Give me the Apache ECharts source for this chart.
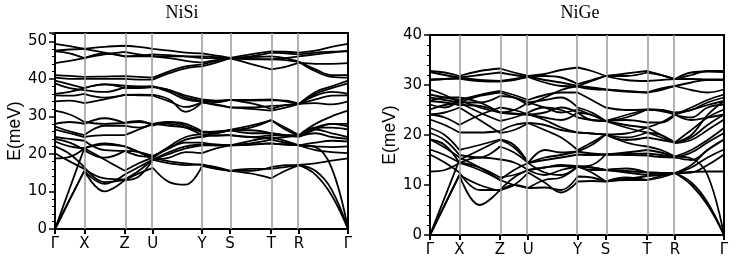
<!DOCTYPE html>
<html>
<head>
<meta charset="utf-8">
<script src="https://cdn.jsdelivr.net/npm/echarts@6/dist/echarts.min.js"></script>
<style>
  html, body { margin: 0; padding: 0; background: #fff; }
  #chart { width: 737px; height: 264px; }
</style>
</head>
<body>
<div id="chart"></div>
<script>
  // k-path sample positions (fraction of path length)
  var kPoints = [0, 0.05, 0.1, 0.169, 0.238, 0.286, 0.334, 0.39, 0.446, 0.502, 0.55, 0.597, 0.667, 0.738, 0.786, 0.833, 0.889, 0.944, 1]
  var kLabelPos = [0, 0.1, 0.238, 0.334, 0.502, 0.597, 0.738, 0.833, 1]
  var kLabels = ['Γ', 'X', 'Z', 'U', 'Y', 'S', 'T', 'R', 'Γ']
  var titles = ['NiSi', 'NiGe']
  var yTicksNiSi = [0, 10, 20, 30, 40, 50]
  var yTicksNiGe = [0, 10, 20, 30, 40]

  // NiSi phonon bands, E(meV) at each kPoint
  var nisiBands = [
    [0, 7.8, 15.5, 10, 13, 14.8, 16.3, 12.5, 11.8, 16.8, 16, 15.5, 14.8, 13.5, 15.5, 17, 14.5, 9, 0],
    [0, 7.8, 15.5, 12, 14.5, 16.5, 18.5, 17.5, 17, 17.2, 16.2, 15.5, 16, 16, 16.5, 17, 15.5, 10.5, 0],
    [0, 10.8, 21.5, 22.5, 22, 20.5, 18.5, 20, 21.5, 22.3, 22.3, 22.3, 22.5, 22.8, 22.5, 22.3, 21.8, 16.3, 0],
    [18.8, 19.2, 21.5, 22.8, 22, 20.5, 19, 18, 17.5, 17.1, 16.5, 15.5, 15.5, 16.5, 17, 17.1, 17.5, 18.2, 18.8],
    [20.2, 18, 16, 13.5, 13.2, 15.5, 18.5, 19, 20.5, 20.2, 21.5, 22.3, 22.5, 22.8, 22.5, 22.3, 21, 20.5, 20.2],
    [22, 20, 16.5, 12.5, 13, 14, 18.5, 20.5, 22, 22.5, 22.3, 22.3, 22.8, 23.8, 23, 22.3, 22, 21.8, 22],
    [23.3, 22, 21.5, 18.5, 15.5, 17.5, 19, 21.5, 23, 23, 22.5, 22.3, 23.5, 24.5, 23.5, 22.3, 23, 23.5, 23.3],
    [24, 23, 21, 19, 20.8, 20.5, 19.5, 21.5, 23.8, 24.5, 25, 25, 24.5, 25, 24.8, 24.6, 25.5, 24.5, 24],
    [24.5, 24, 23.5, 21, 20.8, 19.5, 19.2, 22, 24.5, 25.2, 25.5, 26.3, 27, 29, 26.5, 24.8, 26.5, 25.5, 24.5],
    [26.5, 25.5, 24.5, 25, 25, 26.5, 28, 27.5, 27, 25.8, 25.7, 26.3, 25.5, 25.5, 25, 25, 27, 27, 26.5],
    [27.3, 26, 25, 27.5, 27.5, 27, 28, 28.5, 27.5, 25.8, 26, 26.3, 26.3, 25.5, 25, 24.6, 26.5, 28, 27.3],
    [28, 28.5, 28, 29.5, 28.2, 28.5, 28, 28, 27, 25, 24.8, 25, 24.5, 24, 24.5, 24.8, 27, 28, 28],
    [31.5, 30.5, 28.5, 28, 28.3, 28.8, 27.5, 28.5, 28, 26, 25.8, 26.4, 27.5, 29, 27, 25, 28, 30, 31.5],
    [34, 34.2, 33.5, 34.5, 35.7, 35.8, 35.7, 34.5, 31.2, 33.7, 33, 32.4, 32, 31.5, 32.3, 33.3, 33.5, 33.2, 34],
    [35.6, 35.5, 36, 35, 35.7, 35.6, 35.5, 34, 32.5, 33.8, 33.2, 32.4, 32.4, 32.8, 33, 33.3, 34.5, 35.5, 35.6],
    [36, 36.5, 37.5, 38.5, 37.5, 37.5, 37.8, 37, 35, 34.2, 34, 34.4, 34.4, 34.5, 34, 33.3, 35.5, 36.5, 36],
    [38.8, 37.5, 37, 36.5, 37.8, 37.8, 38, 37, 35.5, 34.5, 34.2, 34.4, 34.2, 34.3, 34.2, 33.3, 36, 37.5, 38.8],
    [39.5, 38.5, 37.5, 38.5, 38.2, 38, 38, 36.5, 34.5, 34, 33.8, 34.4, 33.5, 32, 33, 33.3, 36.5, 38, 39.5],
    [40.3, 40, 40, 40, 40, 39.8, 39.8, 41.5, 42.8, 43.3, 44.3, 45.5, 45.8, 46, 45.5, 44.5, 42, 40.5, 40.3],
    [41, 40.8, 40.5, 40.6, 40.7, 40.5, 40.3, 42, 43.3, 43.8, 44.8, 45.5, 45.2, 45.2, 45, 44.5, 42.5, 41, 41],
    [44.2, 44.8, 45.5, 46.8, 46, 46, 46, 45.5, 44.8, 44.3, 45, 45.5, 44, 42.5, 43.2, 44.3, 44, 44, 44.2],
    [47.3, 46.8, 45.5, 46.5, 47.2, 46.5, 46, 46, 46, 46, 45.8, 45.5, 46, 47, 46.8, 46.5, 47, 47.2, 47.3],
    [47.5, 47.8, 48, 47, 46, 46.2, 46.5, 46.3, 46, 45.5, 45.5, 45.5, 45.3, 45.2, 45.5, 46, 46.5, 47, 47.5],
    [49.3, 48.7, 48, 48.5, 48.8, 48.5, 48, 47.5, 47, 46.8, 46.2, 45.6, 46.5, 47.3, 47.2, 47, 47.5, 48.5, 49.3]
  ]

  // NiGe phonon bands, E(meV) at each kPoint
  var nigeBands = [
    [0, 6, 12, 6, 9, 11.5, 13, 12, 13, 13.7, 13.5, 13, 12.8, 12.5, 12.4, 12.4, 10.5, 6.5, 0],
    [0, 6, 12, 10, 8.8, 10, 9.4, 11, 11.5, 13.7, 13, 13, 12.5, 12, 12.3, 12.4, 10, 6, 0],
    [0, 7.5, 15, 17, 19, 17.5, 14.4, 17, 16.5, 16.7, 18, 20.1, 18.5, 17.7, 17, 15.7, 15.3, 12, 0],
    [12.7, 13, 14.4, 13, 11, 10, 9.4, 9.5, 9, 11.7, 11.5, 10.7, 11.5, 11, 11.8, 12.4, 12.6, 12.7, 12.7],
    [16.1, 14.5, 12.5, 9, 9, 10, 12.5, 10.5, 8.5, 10.7, 10.8, 10.7, 11.2, 11.8, 12, 12.4, 12.5, 14, 16.1],
    [17.1, 16, 14.5, 13.5, 11.5, 12, 13, 13.5, 13.8, 13.7, 12.5, 10.7, 11, 11, 11.5, 12.4, 13.5, 15.5, 17.1],
    [19.1, 17.5, 15.5, 13.5, 11, 13, 14.4, 12.5, 12, 13.7, 13.5, 13, 13.3, 12.5, 12.4, 12.4, 14, 17, 19.1],
    [19.1, 18, 14.4, 15.5, 15.1, 14.5, 13, 13.5, 14, 13.7, 14, 16.1, 16, 15.9, 15.6, 15.5, 15, 17, 19.1],
    [20.4, 19, 16, 15.5, 17.7, 16.5, 14.4, 15, 15.5, 16.1, 16, 16.1, 16.2, 16.3, 16, 15.5, 16.5, 18.5, 20.4],
    [21.4, 20, 17, 18, 19.1, 18, 14.4, 15.5, 16, 16.7, 16.3, 16.1, 16.5, 17, 16.5, 15.7, 17, 19, 21.4],
    [23.1, 22, 20.5, 20.5, 20.8, 22, 22.4, 21, 19.5, 17, 18.5, 20.1, 19.5, 20.5, 19.5, 18.4, 19, 21, 23.1],
    [24.1, 24.5, 25.5, 23, 20.4, 21, 22.4, 22, 21, 20.5, 20.3, 20.1, 19, 19.5, 19, 18.5, 19.5, 22, 24.1],
    [24.1, 23.5, 22, 24, 25.5, 25, 24.1, 23.5, 23, 24.5, 24, 22.8, 24, 25.1, 24.8, 24.1, 23, 23.5, 24.1],
    [25.1, 26, 26.5, 24.5, 22.8, 23.5, 24.5, 25.5, 25, 23.5, 23, 22.8, 21.5, 20.5, 20, 18.5, 21, 23.5, 25.1],
    [26.1, 25.5, 27, 25.5, 24.5, 24.3, 24.1, 24.5, 25.5, 24.5, 23, 22.8, 23, 22.5, 22.5, 24, 23.5, 25.5, 26.1],
    [26.8, 26.5, 26, 25.8, 24.5, 25, 26.5, 25.5, 24.5, 25.1, 24, 22.8, 22, 21.5, 22.5, 24.1, 25, 26, 26.8],
    [26.8, 27.5, 27.5, 26.5, 24.5, 24.2, 24.1, 23, 21.5, 20.5, 20.3, 20.1, 20.3, 21.5, 20, 18.4, 20, 24, 26.8],
    [27.5, 27, 26.5, 26.5, 27.8, 27.5, 26.5, 27, 27.5, 25.5, 24.5, 22.8, 23.5, 25.1, 25, 24.5, 25, 26.5, 27.5],
    [28.1, 27.5, 27, 28, 28.8, 28, 27, 28, 28.5, 28.5, 27, 25.5, 25, 25.1, 25, 24.1, 25.5, 27, 28.1],
    [29.1, 28, 26.5, 27.8, 28.5, 27.5, 26, 27.5, 29, 29.8, 29.5, 29.1, 28.8, 28.5, 29.3, 29.8, 29, 28.5, 29.1],
    [31, 31.2, 31.3, 30.8, 30.7, 31, 31.6, 30.5, 29.8, 29.7, 29.2, 29.1, 28.7, 28.5, 29, 29.8, 30.5, 31, 31],
    [31.1, 31.2, 31.5, 31, 30.8, 31.2, 31.7, 31, 30.5, 29.8, 30.8, 31.8, 31, 30.8, 31, 31.2, 31.2, 31.1, 31.1],
    [32.6, 32, 31.5, 32, 32.5, 32, 31.6, 31.8, 31.5, 30.2, 31, 31.8, 31.8, 32.5, 32, 31.2, 32.5, 32.7, 32.6],
    [32.8, 32.5, 31.8, 32.8, 33.3, 32.5, 31.8, 32.2, 33, 33.5, 32.8, 31.8, 32.3, 32.8, 32, 31.2, 32, 32.8, 32.8]
  ]

  var chart = echarts.init(document.getElementById('chart'))

  function isInnerSymPoint(k) {
    for (var i = 1; i < kLabelPos.length - 1; i++) {
      if (Math.abs(kLabelPos[i] - k) < 1e-6) return true
    }
    return false
  }

  // one band -> data with a break at each high-symmetry point,
  // so each path segment is smoothed on its own (kinks at X, Z, ...)
  function bandData(band) {
    var d = []
    for (var i = 0; i < kPoints.length; i++) {
      d.push([kPoints[i], band[i]])
      if (isInnerSymPoint(kPoints[i])) {
        d.push([kPoints[i], '-'])
        d.push([kPoints[i], band[i]])
      }
    }
    return d
  }

  function makeXAxis(gridIndex) {
    return {
      type: 'value',
      gridIndex: gridIndex,
      min: 0,
      max: 1,
      splitLine: { show: false },
      axisLine: { lineStyle: { color: '#000', width: 2 } },
      axisTick: { customValues: kLabelPos, length: 5, lineStyle: { color: '#000', width: 2 } },
      axisLabel: {
        customValues: kLabelPos,
        margin: 8,
        color: '#000',
        fontSize: 15,
        fontFamily: 'DejaVu Sans',
        formatter: function (v) {
          for (var i = 0; i < kLabelPos.length; i++) {
            if (Math.abs(kLabelPos[i] - v) < 1e-6) return kLabels[i]
          }
          return ''
        }
      }
    }
  }

  function makeYAxis(gridIndex, max, ticks) {
    return {
      type: 'value',
      gridIndex: gridIndex,
      min: 0,
      max: max,
      interval: 10,
      name: 'E(meV)',
      nameLocation: 'middle',
      nameGap: 31,
      nameTextStyle: { color: '#000', fontSize: 17.5, fontFamily: 'Liberation Sans' },
      splitLine: { show: false },
      axisLine: { lineStyle: { color: '#000', width: 2 } },
      axisTick: { length: 6, lineStyle: { color: '#000', width: 1.5 } },
      minorTick: { show: true, splitNumber: 5, length: 3, lineStyle: { color: '#000', width: 1 } },
      axisLabel: {
        showMaxLabel: ticks.indexOf(max) >= 0,
        margin: 8,
        color: '#000',
        fontSize: 15,
        fontFamily: 'DejaVu Sans'
      }
    }
  }

  function bandSeries(bands, idx) {
    var out = []
    // gray vertical lines at the high-symmetry points
    out.push({
      type: 'line',
      xAxisIndex: idx,
      yAxisIndex: idx,
      data: [],
      z: 1,
      silent: true,
      markLine: {
        silent: true,
        symbol: 'none',
        label: { show: false },
        lineStyle: { color: '#9a9a9a', width: 1.5, type: 'solid' },
        data: kLabelPos.slice(1, kLabelPos.length - 1).map(function (k) { return { xAxis: k } })
      }
    })
    for (var b = 0; b < bands.length; b++) {
      out.push({
        type: 'line',
        xAxisIndex: idx,
        yAxisIndex: idx,
        smooth: 0.4,
        connectNulls: false,
        showSymbol: false,
        silent: true,
        z: 3,
        lineStyle: { color: '#000', width: 1.8 },
        data: bandData(bands[b])
      })
    }
    return out
  }

  var option = {
    animation: false,
    backgroundColor: '#fff',
    graphic: [
      { type: 'text', x: 182, y: 13, style: { text: titles[0], textAlign: 'center', textVerticalAlign: 'middle', fill: '#000', font: '18px "Liberation Serif"' } },
      { type: 'text', x: 580, y: 13, style: { text: titles[1], textAlign: 'center', textVerticalAlign: 'middle', fill: '#000', font: '18px "Liberation Serif"' } }
    ],
    grid: [
      { left: 55, top: 33, width: 293, height: 196, show: true, borderColor: '#000', borderWidth: 2 },
      { left: 430, top: 35, width: 294, height: 200, show: true, borderColor: '#000', borderWidth: 2 }
    ],
    xAxis: [makeXAxis(0), makeXAxis(1)],
    yAxis: [makeYAxis(0, 52.2, yTicksNiSi), makeYAxis(1, 40, yTicksNiGe)],
    series: bandSeries(nisiBands, 0).concat(bandSeries(nigeBands, 1))
  }

  chart.setOption(option)
</script>
</body>
</html>
